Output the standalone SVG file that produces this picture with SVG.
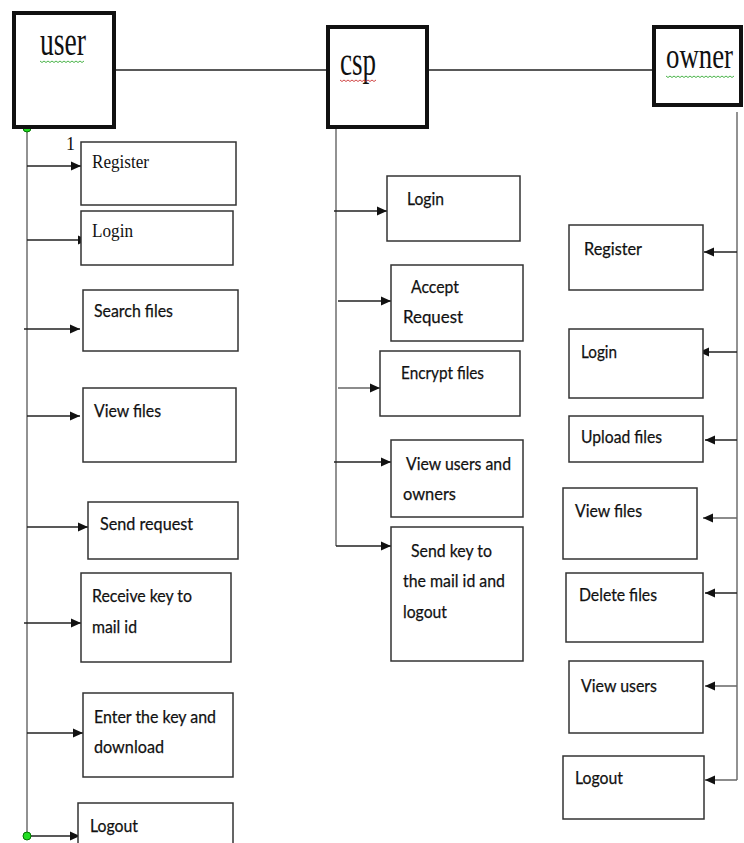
<svg xmlns="http://www.w3.org/2000/svg" width="744" height="843" viewBox="0 0 744 843">
<style>
.hdr{fill:#fff;stroke:#111;stroke-width:4}
.box{fill:#fff;stroke:#333;stroke-width:1.5}
.t{font-family:Lato,"Liberation Sans",sans-serif;font-size:18px;fill:#111;stroke:#111;stroke-width:0.25}
.s{font-family:"Liberation Serif",serif;fill:#111}
.ln{fill:none;stroke:#777;stroke-width:1.6}
.ar{fill:none;stroke:#222;stroke-width:1.5;marker-end:url(#arr)}
.hl{fill:none;stroke:#222;stroke-width:1.5}
</style>
<defs>
<marker id="arr" markerWidth="11" markerHeight="12" refX="10" refY="6" orient="auto" markerUnits="userSpaceOnUse"><path d="M0,1.5 L10,6 L0,10.5 z" fill="#111"/></marker>
</defs>
<g id="connectors">
<path class="hl" d="M115,70 H327"/>
<path class="hl" d="M428,70 H653"/>
<path class="ln" d="M27,128 V836"/>
<path class="ar" d="M27,166 H81"/>
<path class="ar" d="M27,240 H88"/>
<path class="ar" d="M24,329 H80"/>
<path class="ar" d="M27,416 H80"/>
<path class="ar" d="M27,527 H88"/>
<path class="ar" d="M24,623 H81"/>
<path class="ar" d="M27,733 H83"/>
<path class="ar" d="M27,836 H80"/>
<path class="ln" d="M336,128 V546"/>
<path class="ar" d="M334,211 H387"/>
<path class="ar" d="M338,301 H391"/>
<path class="ar" d="M338,388 H380" style="stroke:#666"/>
<path class="ar" d="M334,462 H391"/>
<path class="ar" d="M336,546 H391"/>
<path class="ln" d="M737,112 V780"/>
<path class="ar" d="M737,252 H704"/>
<path class="ar" d="M737,352 H699"/>
<path class="ar" d="M737,440 H705"/>
<path class="ar" d="M737,518 H703" style="stroke:#666"/>
<path class="ar" d="M737,593 H705"/>
<path class="ar" d="M737,686 H705" style="stroke:#666"/>
<path class="ar" d="M737,780 H705" style="stroke:#666"/>
<circle cx="27" cy="128" r="4" fill="#22dd22" stroke="#070" stroke-width="1"/>
<circle cx="27" cy="836" r="4" fill="#22dd22" stroke="#070" stroke-width="1"/>
<text class="s" x="66" y="150" font-size="18">1</text>
</g>
<g id="user">
<rect class="hdr" x="14" y="13" width="100" height="114"/>
<text class="s" x="40" y="55" font-size="39" textLength="46" lengthAdjust="spacingAndGlyphs">user</text>
<path d="M40,61 l2,1.5 l2,-1.5 l2,1.5 l2,-1.5 l2,1.5 l2,-1.5 l2,1.5 l2,-1.5 l2,1.5 l2,-1.5 l2,1.5 l2,-1.5 l2,1.5 l2,-1.5 l2,1.5 l2,-1.5 l2,1.5 l2,-1.5 l2,1.5 l2,-1.5 l2,1.5 l2,-1.5" fill="none" stroke="#3a3" stroke-width="0.9"/>
</g>
<g id="csp">
<rect class="hdr" x="328" y="27" width="99" height="100"/>
<text class="s" x="340" y="75" font-size="39" textLength="36" lengthAdjust="spacingAndGlyphs">csp</text>
<path d="M340,80 l2,1.5 l2,-1.5 l2,1.5 l2,-1.5 l2,1.5 l2,-1.5 l2,1.5 l2,-1.5 l2,1.5 l2,-1.5 l2,1.5 l2,-1.5 l2,1.5 l2,-1.5 l2,1.5 l2,-1.5 l2,1.5 l2,-1.5" fill="none" stroke="#c33" stroke-width="0.9"/>
</g>
<g id="owner">
<rect class="hdr" x="654" y="27" width="87" height="78"/>
<text class="s" x="666" y="68" font-size="36" textLength="67" lengthAdjust="spacingAndGlyphs">owner</text>
<path d="M666,76 l2,1.5 l2,-1.5 l2,1.5 l2,-1.5 l2,1.5 l2,-1.5 l2,1.5 l2,-1.5 l2,1.5 l2,-1.5 l2,1.5 l2,-1.5 l2,1.5 l2,-1.5 l2,1.5 l2,-1.5 l2,1.5 l2,-1.5 l2,1.5 l2,-1.5 l2,1.5 l2,-1.5 l2,1.5 l2,-1.5 l2,1.5 l2,-1.5 l2,1.5 l2,-1.5 l2,1.5 l2,-1.5 l2,1.5 l2,-1.5 l2,1.5 l2,-1.5" fill="none" stroke="#3a3" stroke-width="0.9"/>
</g>
<g id="u-register">
<rect class="box" x="81" y="142" width="155" height="63"/>
<text class="s" x="92" y="168" font-size="19" textLength="57" lengthAdjust="spacingAndGlyphs">Register</text>
</g>
<g id="u-login">
<rect class="box" x="81" y="211" width="152" height="54"/>
<text class="s" x="92" y="237" font-size="19" textLength="41" lengthAdjust="spacingAndGlyphs">Login</text>
</g>
<g id="u-search">
<rect class="box" x="83" y="290" width="155" height="61"/>
<text class="t" x="94" y="317" textLength="79" lengthAdjust="spacingAndGlyphs">Search files</text>
</g>
<g id="u-view">
<rect class="box" x="83" y="388" width="153" height="74"/>
<text class="t" x="94" y="417" textLength="67" lengthAdjust="spacingAndGlyphs">View files</text>
</g>
<g id="u-send">
<rect class="box" x="88" y="502" width="150" height="57"/>
<text class="t" x="100" y="530" textLength="93" lengthAdjust="spacingAndGlyphs">Send request</text>
</g>
<g id="u-receive">
<rect class="box" x="81" y="573" width="150" height="89"/>
<text class="t" x="92" y="602" textLength="100" lengthAdjust="spacingAndGlyphs">Receive key to</text>
<text class="t" x="92" y="633" textLength="45" lengthAdjust="spacingAndGlyphs">mail id</text>
</g>
<g id="u-enter">
<rect class="box" x="83" y="693" width="150" height="84"/>
<text class="t" x="94" y="723" textLength="122" lengthAdjust="spacingAndGlyphs">Enter the key and</text>
<text class="t" x="94" y="753" textLength="70" lengthAdjust="spacingAndGlyphs">download</text>
</g>
<g id="u-logout">
<rect class="box" x="78" y="803" width="155" height="60"/>
<text class="t" x="90" y="832" textLength="48" lengthAdjust="spacingAndGlyphs">Logout</text>
</g>
<g id="c-login">
<rect class="box" x="387" y="176" width="133" height="65"/>
<text class="t" x="407" y="205" textLength="37" lengthAdjust="spacingAndGlyphs">Login</text>
</g>
<g id="c-accept">
<rect class="box" x="391" y="265" width="132" height="76"/>
<text class="t" x="411" y="293" textLength="48" lengthAdjust="spacingAndGlyphs">Accept</text>
<text class="t" x="403" y="323" textLength="60" lengthAdjust="spacingAndGlyphs">Request</text>
</g>
<g id="c-encrypt">
<rect class="box" x="380" y="351" width="140" height="65"/>
<text class="t" x="401" y="379" textLength="83" lengthAdjust="spacingAndGlyphs">Encrypt files</text>
</g>
<g id="c-viewusers">
<rect class="box" x="391" y="440" width="132" height="77"/>
<text class="t" x="406" y="470" textLength="105" lengthAdjust="spacingAndGlyphs">View users and</text>
<text class="t" x="403" y="500" textLength="53" lengthAdjust="spacingAndGlyphs">owners</text>
</g>
<g id="c-sendkey">
<rect class="box" x="391" y="527" width="132" height="134"/>
<text class="t" x="411" y="557" textLength="81" lengthAdjust="spacingAndGlyphs">Send key to</text>
<text class="t" x="403" y="587" textLength="102" lengthAdjust="spacingAndGlyphs">the mail id and</text>
<text class="t" x="403" y="618" textLength="44" lengthAdjust="spacingAndGlyphs">logout</text>
</g>
<g id="o-register">
<rect class="box" x="569" y="225" width="134" height="65"/>
<text class="t" x="584" y="255" textLength="58" lengthAdjust="spacingAndGlyphs">Register</text>
</g>
<g id="o-login">
<rect class="box" x="569" y="329" width="134" height="69"/>
<text class="t" x="581" y="358" textLength="36" lengthAdjust="spacingAndGlyphs">Login</text>
</g>
<g id="o-upload">
<rect class="box" x="569" y="416" width="134" height="46"/>
<text class="t" x="581" y="443" textLength="81" lengthAdjust="spacingAndGlyphs">Upload files</text>
</g>
<g id="o-view">
<rect class="box" x="563" y="488" width="134" height="71"/>
<text class="t" x="575" y="517" textLength="67" lengthAdjust="spacingAndGlyphs">View files</text>
</g>
<g id="o-delete">
<rect class="box" x="566" y="573" width="137" height="69"/>
<text class="t" x="579" y="601" textLength="78" lengthAdjust="spacingAndGlyphs">Delete files</text>
</g>
<g id="o-viewusers">
<rect class="box" x="569" y="661" width="134" height="72"/>
<text class="t" x="581" y="692" textLength="76" lengthAdjust="spacingAndGlyphs">View users</text>
</g>
<g id="o-logout">
<rect class="box" x="563" y="756" width="141" height="63"/>
<text class="t" x="575" y="784" textLength="48" lengthAdjust="spacingAndGlyphs">Logout</text>
</g>
</svg>
